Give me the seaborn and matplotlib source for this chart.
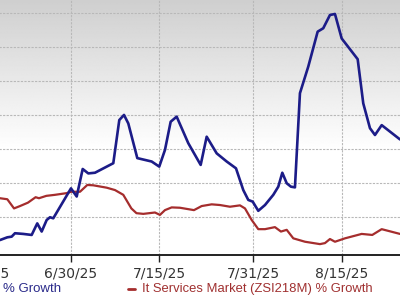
import numpy as np
import pandas as pd
import matplotlib
matplotlib.use("Agg")
import matplotlib.pyplot as plt
import seaborn as sns
from matplotlib.lines import Line2D

# ---- data (days relative to 6/30/25, growth index units) ----
blue_days = [-12.06, -10.82, -10.08, -9.52, -8.11, -6.68, -5.73, -4.98, -4.13, -3.57, -3.01,
             0.0, 0.97, 1.99, 2.94, 4.08, 7.19, 8.21, 9.01, 9.74, 11.27, 13.71, 15.0, 15.97,
             16.94, 17.96, 19.93, 22.04, 23.06, 24.76, 26.46, 28.04, 29.28, 30.13, 30.88,
             31.83, 32.97, 34.38, 35.23, 35.91, 36.66, 37.38, 38.06, 38.91, 40.32, 41.92,
             42.87, 44.01, 44.86, 46.0, 48.72, 49.67, 50.81, 51.66, 52.80, 55.91]
blue_vals = [0.33, 0.41, 0.43, 0.53, 0.51, 0.48, 0.82, 0.58, 0.92, 1.00, 0.97,
             1.85, 1.61, 2.42, 2.29, 2.31, 2.59, 3.86, 4.01, 3.76, 2.74, 2.64, 2.49, 2.98,
             3.81, 3.96, 3.18, 2.54, 3.37, 2.88, 2.64, 2.44, 1.80, 1.51, 1.46,
             1.19, 1.36, 1.66, 1.90, 2.31, 2.00, 1.90, 1.88, 4.65, 5.43, 6.46,
             6.56, 6.95, 6.98, 6.26, 5.65, 4.35, 3.62, 3.42, 3.71, 3.29]

red_days = [-12.06, -10.82, -9.68, -8.66, -7.31, -6.01, -5.44, -4.18, -2.72, -0.73, 0.0,
            1.53, 2.77, 3.79, 6.07, 7.48, 8.89, 10.26, 11.13, 12.29, 14.27, 15.12, 15.97,
            17.11, 18.52, 20.90, 22.21, 23.91, 25.32, 27.02, 28.72, 29.57, 30.71, 31.83,
            32.97, 34.66, 35.68, 36.66, 37.78, 39.77, 42.31, 43.16, 44.01, 44.86, 46.56,
            49.40, 51.20, 52.80, 55.91]
red_vals = [1.56, 1.53, 1.26, 1.33, 1.43, 1.59, 1.56, 1.63, 1.66, 1.71, 1.75,
            1.75, 1.95, 1.94, 1.87, 1.80, 1.66, 1.26, 1.12, 1.10, 1.14, 1.07, 1.21,
            1.29, 1.28, 1.21, 1.33, 1.38, 1.36, 1.31, 1.35, 1.26, 0.92, 0.65,
            0.65, 0.71, 0.58, 0.63, 0.38, 0.28, 0.21, 0.24, 0.36, 0.28, 0.38,
            0.51, 0.48, 0.65, 0.51]

tick_days = [-15, 0, 15, 31, 46]
tick_labels = ["6/15/25", "6/30/25", "7/15/25", "7/31/25", "8/15/25"]
grid_vals = [1, 2, 3, 4, 5, 6, 7]

blue_label = "% Growth"
red_label = "It Services Market (ZSI218M) % Growth"

BLUE = "#1c1c88"
RED = "#a52d2d"

sns.set_theme(style="white")
plt.rcParams["font.family"] = ["DejaVu Sans"]

fig = plt.figure(figsize=(4, 3), dpi=100)
fig.patch.set_facecolor("white")

# axes extends beyond the figure on the left, right and top (cropped chart)
ax = fig.add_axes([-0.1, 0.15, 1.2, 0.919])
xmin, xmax = -18.86, 62.71
ymin, ymax = -0.11, 8.0
ax.set_xlim(xmin, xmax)
ax.set_ylim(ymin, ymax)

# vertical grey-to-white gradient background
vv = np.linspace(ymax, ymin, 300)
lvl = 1 - 0.19 * np.clip((vv - 2.98) / (7.39 - 2.98), 0, 1)
grad = np.repeat(lvl[:, None], 2, axis=1)
ax.imshow(grad, extent=[xmin, xmax, ymin, ymax], aspect="auto", cmap="gray",
          vmin=0, vmax=1, zorder=0, interpolation="bilinear")

# grid
for g in grid_vals:
    ax.axhline(g, color="#b8b8b8", lw=0.8, ls=(0, (2, 1.2)), zorder=1)
for t in tick_days:
    ax.axvline(t, color="#b8b8b8", lw=0.8, ls=(0, (2, 1.2)), zorder=1)

df_b = pd.DataFrame({"day": blue_days, "val": blue_vals})
df_r = pd.DataFrame({"day": red_days, "val": red_vals})
sns.lineplot(data=df_r, x="day", y="val", ax=ax, color=RED, lw=1.6, zorder=3, sort=False)
sns.lineplot(data=df_b, x="day", y="val", ax=ax, color=BLUE, lw=1.9, zorder=4, sort=False)

ax.set_xticks(tick_days)
ax.set_xticklabels(tick_labels)
ax.set_yticks([])
ax.set_xlabel("")
ax.set_ylabel("")
ax.tick_params(axis="x", direction="out", length=5, width=1, color="#222222",
               labelsize=10, labelcolor="#333333", pad=3, bottom=True)
for s in ["top", "right", "left"]:
    ax.spines[s].set_visible(False)
ax.spines["bottom"].set_color("#222222")
ax.spines["bottom"].set_linewidth(1.4)

# legend row
fig.text(3 / 400, 1 - 289 / 300, blue_label, color="#2a2a8a", fontsize=9.5,
         family="Liberation Sans", ha="left", va="center")
fig.add_artist(Line2D([128 / 400, 135 / 400], [1 - 289 / 300, 1 - 289 / 300],
                      color=RED, lw=2, transform=fig.transFigure))
fig.text(142 / 400, 1 - 289 / 300, red_label, color="#a03030", fontsize=9.4,
         family="Liberation Sans", ha="left", va="center")

fig.savefig("out.png", dpi=100)
